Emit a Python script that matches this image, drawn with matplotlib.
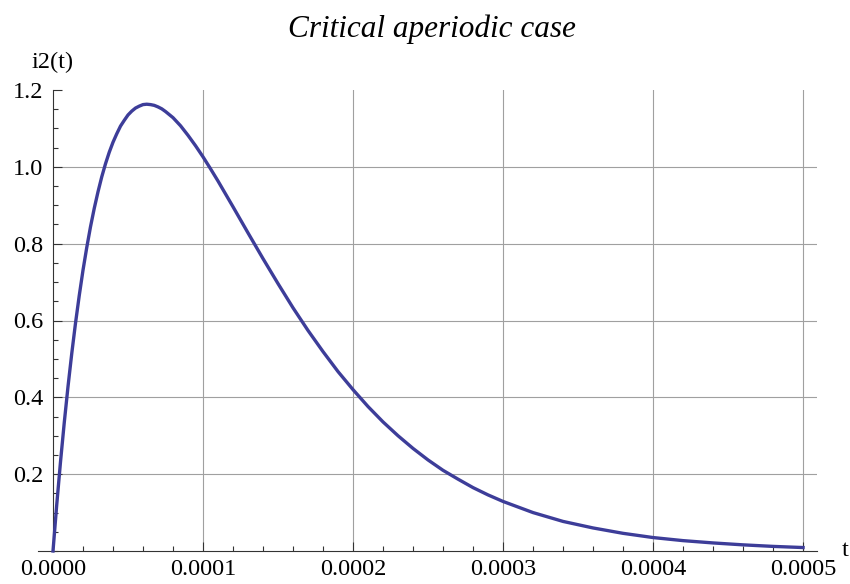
import matplotlib.pyplot as plt
from matplotlib.ticker import MultipleLocator, FormatStrFormatter

# values
t = [0.0, 0.25e-5, 0.5e-5, 0.75e-5, 1e-5, 1.25e-5, 1.5e-5, 1.75e-5, 2e-5,
     2.25e-5, 2.5e-5, 2.75e-5, 3e-5, 3.25e-5, 3.5e-5, 3.75e-5, 4e-5,
     4.25e-5, 4.5e-5, 4.75e-5, 5e-5, 5.25e-5, 5.5e-5, 5.75e-5, 6e-5,
     6.25e-5, 6.5e-5, 6.75e-5, 7e-5, 7.25e-5, 7.5e-5, 8e-5, 8.5e-5, 9e-5,
     9.5e-5, 10e-5, 10.5e-5, 11e-5, 12e-5, 13e-5, 14e-5, 15e-5, 16e-5,
     17e-5, 18e-5, 19e-5, 20e-5, 21e-5, 22e-5, 23e-5, 24e-5, 25e-5, 26e-5,
     27e-5, 28e-5, 29e-5, 30e-5, 32e-5, 34e-5, 36e-5, 38e-5, 40e-5, 42e-5,
     44e-5, 46e-5, 48e-5, 50e-5]
i2 = [0.0, 0.121, 0.232, 0.334, 0.428, 0.514, 0.593, 0.665, 0.731,
      0.790, 0.844, 0.892, 0.935, 0.974, 1.008, 1.038, 1.064,
      1.086, 1.106, 1.121, 1.135, 1.145, 1.153, 1.158, 1.162,
      1.163, 1.162, 1.160, 1.156, 1.151, 1.144, 1.128, 1.107, 1.082,
      1.055, 1.026, 0.995, 0.963, 0.896, 0.828, 0.761, 0.696, 0.633,
      0.574, 0.519, 0.467, 0.420, 0.376, 0.336, 0.300, 0.267, 0.237, 0.210,
      0.187, 0.165, 0.146, 0.129, 0.100, 0.077, 0.060, 0.046, 0.035, 0.027,
      0.021, 0.016, 0.012, 0.009]

x_major = [0.0, 0.0001, 0.0002, 0.0003, 0.0004, 0.0005]
y_major = [0.2, 0.4, 0.6, 0.8, 1.0, 1.2]

plt.rcParams["font.family"] = ["Liberation Serif", "DejaVu Serif"]
plt.rcParams["font.size"] = 17.5

fig = plt.figure(figsize=(8.5, 5.84), dpi=100)
ax = fig.add_axes([38 / 850, 33 / 584, 779 / 850, 461 / 584])

xmin, xmax = -1e-5, 5.093e-4
ax.set_xlim(xmin, xmax)
ax.set_ylim(0, 1.2)

# grid lines, drawn from the axis origin only
for x in x_major[1:]:
    ax.axvline(x, color="#a0a0a0", lw=0.8, zorder=1)
for y in y_major[:-1]:
    ax.axhline(y, xmin=(0 - xmin) / (xmax - xmin), color="#a0a0a0", lw=0.8, zorder=1)

ax.plot(t, i2, color="#3d3d99", lw=2.4, zorder=3, clip_on=False,
        solid_joinstyle="round")

for s in ("top", "right"):
    ax.spines[s].set_visible(False)
ax.spines["left"].set_position(("data", 0))
for s in ("left", "bottom"):
    ax.spines[s].set_color("#333333")
    ax.spines[s].set_linewidth(0.8)

ax.set_xticks(x_major)
ax.set_yticks(y_major)
ax.xaxis.set_major_formatter(FormatStrFormatter("%.4f"))
ax.yaxis.set_major_formatter(FormatStrFormatter("%.1f"))
ax.xaxis.set_minor_locator(MultipleLocator(0.00002))
ax.yaxis.set_minor_locator(MultipleLocator(0.05))
ax.tick_params(which="both", direction="in", color="#333333", width=0.8)
ax.tick_params(which="major", length=6.5)
ax.tick_params(which="minor", length=3.8)
ax.tick_params(axis="x", pad=6)
ax.tick_params(axis="y", pad=7)

ax.text((53 - 38) / 779, 1.0 + 28 / 461, "i2(t)", transform=ax.transAxes,
        ha="center", va="center", fontsize=17.5)
ax.annotate("t", xy=(1, 0), xycoords="axes fraction", xytext=(28, 0),
            textcoords="offset pixels", ha="center", va="center", fontsize=17.5)

fig.text(432 / 850, 1 - 29 / 584, "Critical aperiodic case", ha="center",
         va="center", fontsize=22.5, style="italic")

fig.savefig("out.png", dpi=100)
